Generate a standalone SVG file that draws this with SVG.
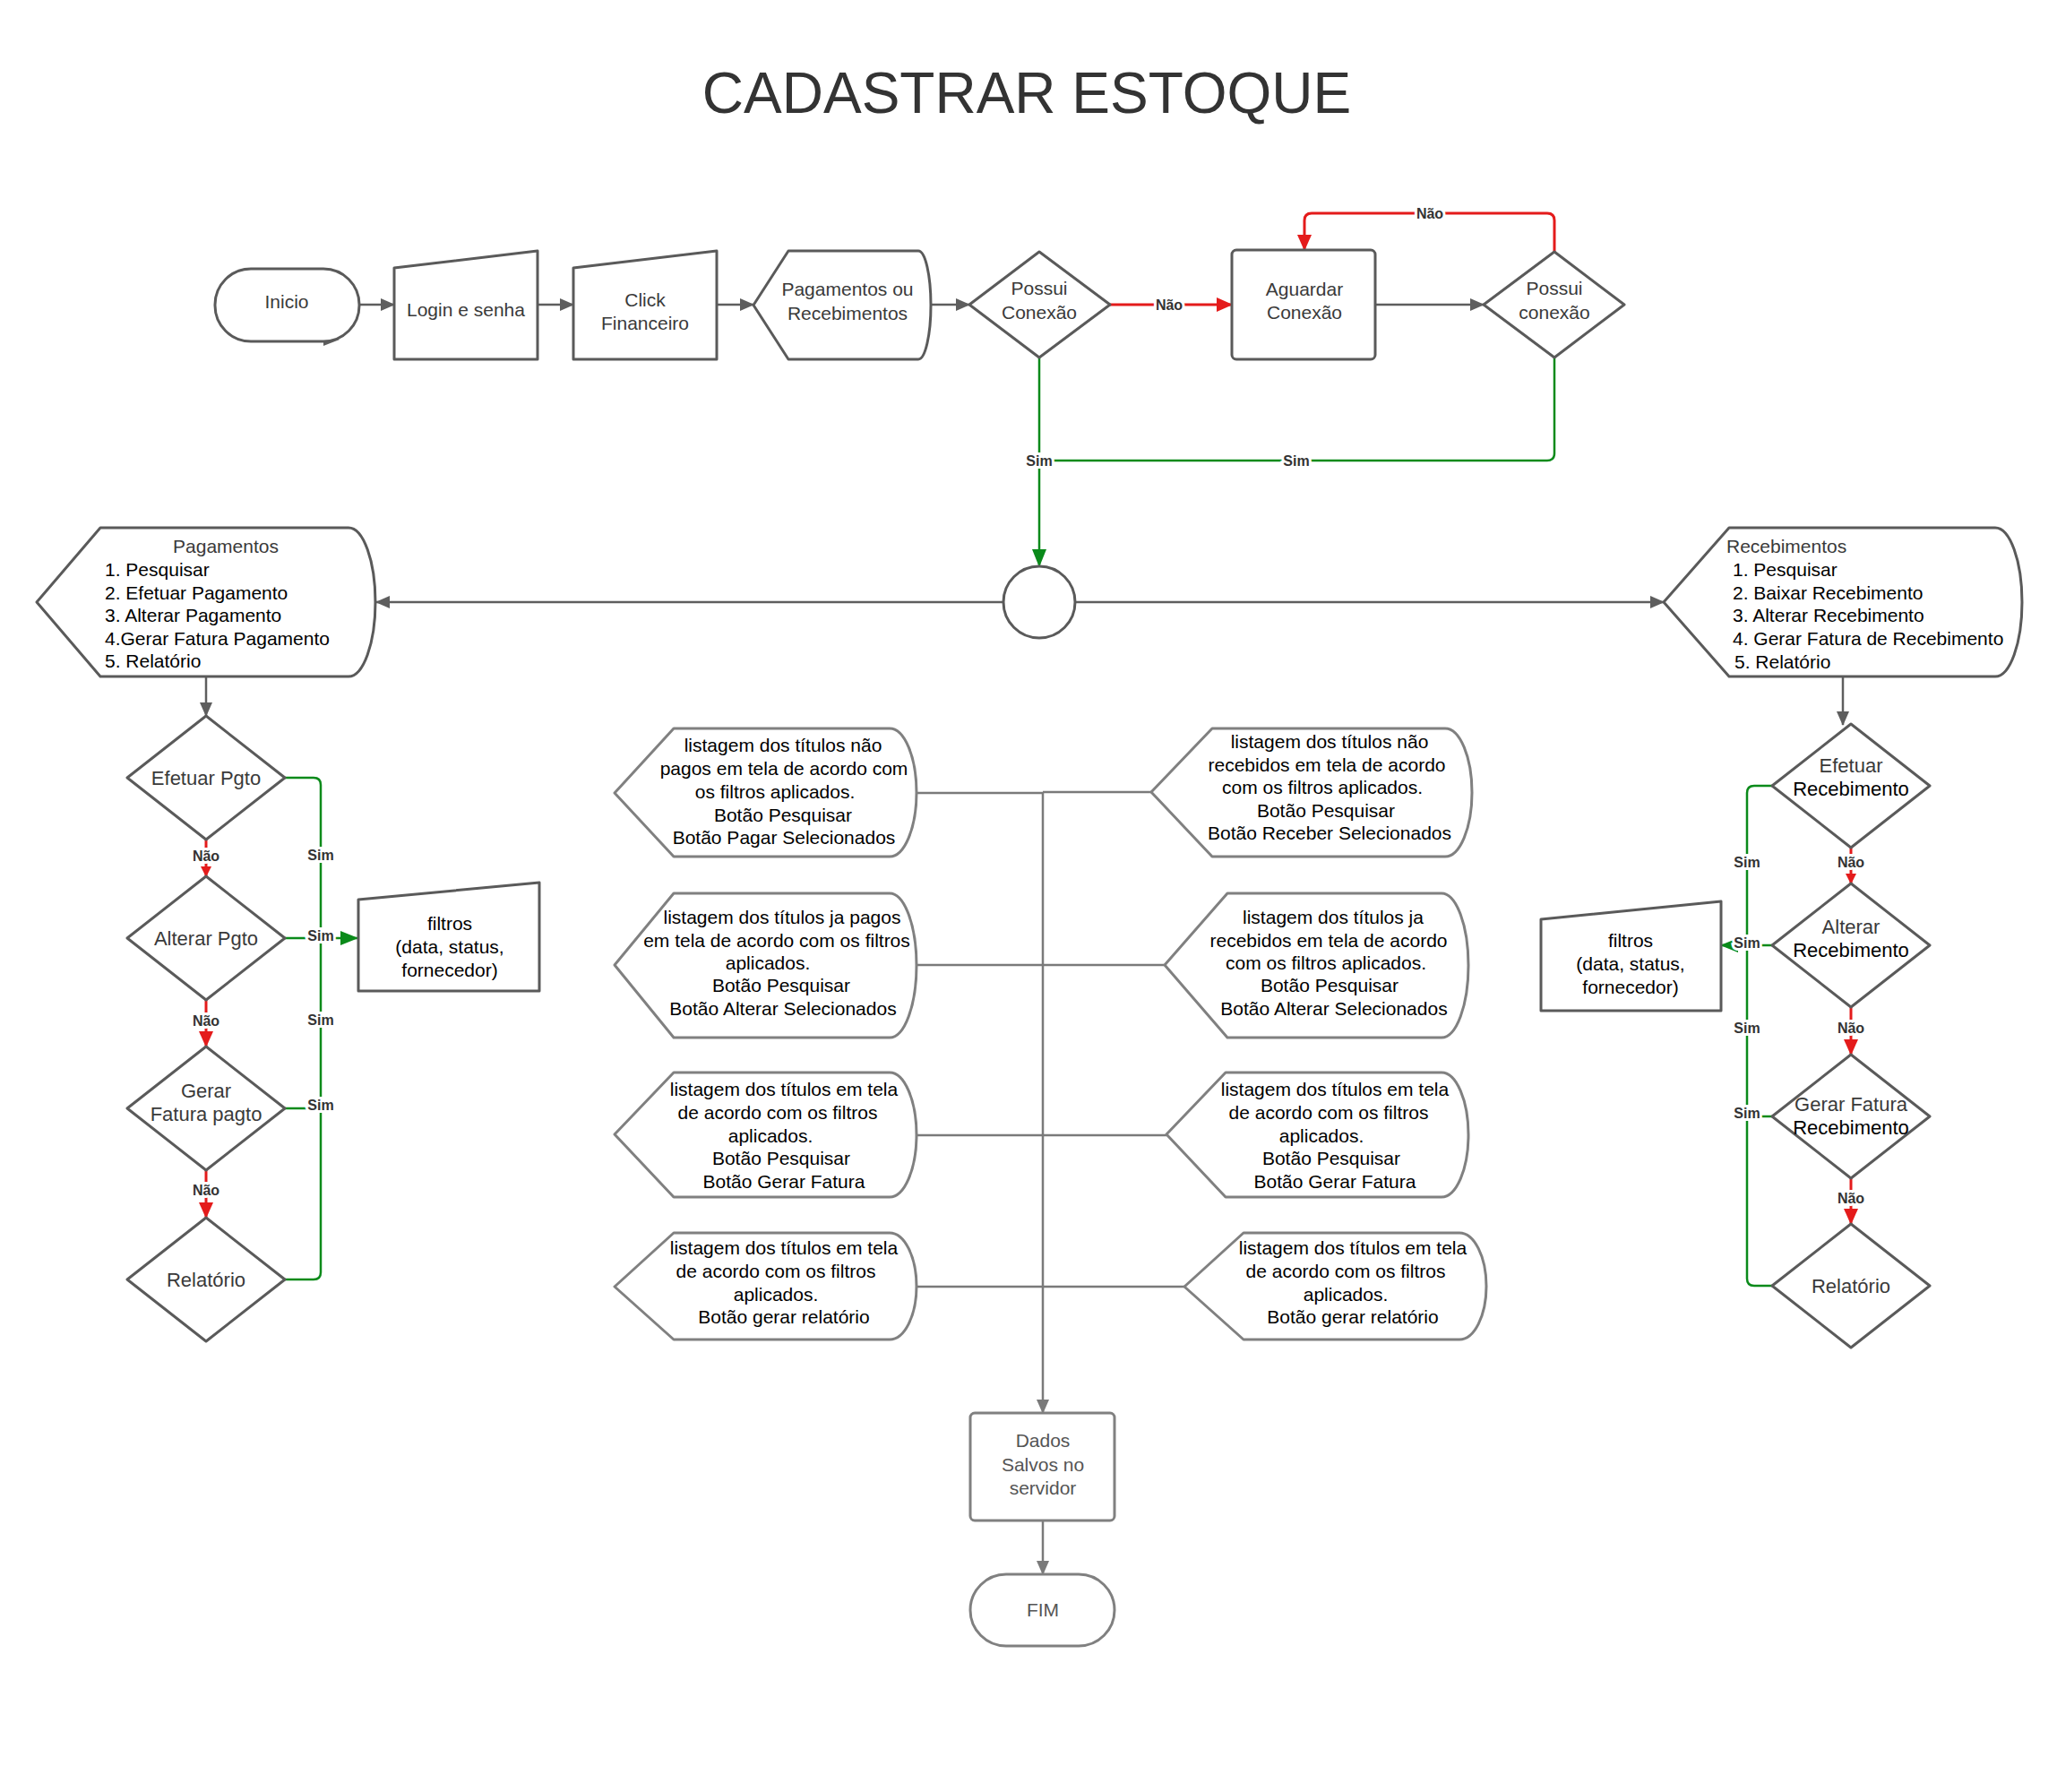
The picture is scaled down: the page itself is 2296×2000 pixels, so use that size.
<svg xmlns="http://www.w3.org/2000/svg" width="2296" height="2000" viewBox="0 0 2296 2000">
<style>
.n{fill:#fff;stroke:#5a5a5a;stroke-width:3;stroke-linejoin:round}
.m{fill:#fff;stroke:#808080;stroke-width:3;stroke-linejoin:round}
.t{font-family:"Liberation Sans",Arial,sans-serif;font-size:21px;fill:#3a3a3a;text-anchor:middle}
.dt{font-family:"Liberation Sans",Arial,sans-serif;font-size:22px;fill:#3a3a3a;text-anchor:middle}
.dtb{font-family:"Liberation Sans",Arial,sans-serif;font-size:22px;fill:#000;text-anchor:middle}
.tb{font-family:"Liberation Sans",Arial,sans-serif;font-size:21px;fill:#000;text-anchor:middle}
.tl{font-family:"Liberation Sans",Arial,sans-serif;font-size:21px;fill:#000;text-anchor:start}
.td{font-family:"Liberation Sans",Arial,sans-serif;font-size:21px;fill:#555;text-anchor:middle}
.g{fill:none;stroke:#5e5e5e;stroke-width:2.5}
.gl{fill:none;stroke:#7a7a7a;stroke-width:2.5}
.gr{fill:none;stroke:#0a8a1a;stroke-width:2.5}
.r{fill:none;stroke:#e41b1b;stroke-width:3}
.lb{font-family:"Liberation Sans",Arial,sans-serif;font-size:16px;font-weight:bold;fill:#333;text-anchor:middle;paint-order:stroke;stroke:#fff;stroke-width:6px}
</style>
<defs>
<marker id="ag" markerUnits="userSpaceOnUse" markerWidth="16" markerHeight="14" refX="15" refY="7" orient="auto"><path d="M0,0 L16,7 L0,14 Z" fill="#5e5e5e"/></marker>
<marker id="al" markerUnits="userSpaceOnUse" markerWidth="16" markerHeight="14" refX="15" refY="7" orient="auto"><path d="M0,0 L16,7 L0,14 Z" fill="#7a7a7a"/></marker>
<marker id="ar" markerUnits="userSpaceOnUse" markerWidth="18" markerHeight="16" refX="17" refY="8" orient="auto"><path d="M0,0 L18,8 L0,16 Z" fill="#e41b1b"/></marker>
<marker id="ars" markerUnits="userSpaceOnUse" markerWidth="12" markerHeight="12" refX="11" refY="6" orient="auto"><path d="M0,0 L12,6 L0,12 Z" fill="#e41b1b"/></marker>
<marker id="agr" markerUnits="userSpaceOnUse" markerWidth="20" markerHeight="16" refX="19" refY="8" orient="auto"><path d="M0,0 L20,8 L0,16 Z" fill="#0a8a1a"/></marker>
</defs>
<rect width="2296" height="2000" fill="#fff"/>
<text x="1146" y="126" style="font-family:'Liberation Sans',Arial,sans-serif;font-size:64px;fill:#333;text-anchor:middle">CADASTRAR ESTOQUE</text>

<g id="connectors">
<path class="g" d="M401,340 H440" marker-end="url(#ag)"/>
<path class="g" d="M600,340 H640" marker-end="url(#ag)"/>
<path class="g" d="M800,340 H841" marker-end="url(#ag)"/>
<path class="g" d="M1039,340 H1082" marker-end="url(#ag)"/>
<path class="r" d="M1239,340 H1375" marker-end="url(#ar)"/>
<path class="g" d="M1535,340 H1656" marker-end="url(#ag)"/>
<path class="r" d="M1735,281 V246 Q1735,238 1727,238 H1464 Q1456,238 1456,246 V279" marker-end="url(#ar)"/>
<path class="gr" d="M1160,399 V632" marker-end="url(#agr)"/>
<path class="gr" d="M1735,399 V506 Q1735,514 1727,514 H1160"/>
<path class="g" d="M1120,672 H420" marker-end="url(#ag)"/>
<path class="g" d="M1200,672 H1857" marker-end="url(#ag)"/>
<path class="g" d="M230,755 V799" marker-end="url(#ag)"/>
<path class="g" d="M2057,755 V809" marker-end="url(#ag)"/>
<polygon points="361,372 379,379 361,386" fill="#5e5e5e"/>

<path class="r" d="M230,937 V978" marker-end="url(#ars)"/>
<path class="r" d="M230,1116 V1168" marker-end="url(#ar)"/>
<path class="r" d="M230,1306 V1359" marker-end="url(#ar)"/>
<path class="gr" d="M318,868 H350 Q358,868 358,876 V1420 Q358,1428 350,1428 H318"/>
<path class="gr" d="M318,1047 H399" marker-end="url(#agr)"/>
<path class="gr" d="M318,1237 H358"/>

<path class="r" d="M2066,946 V986" marker-end="url(#ars)"/>
<path class="r" d="M2066,1124 V1177" marker-end="url(#ar)"/>
<path class="r" d="M2066,1315 V1366" marker-end="url(#ar)"/>
<path class="gr" d="M1978,877 H1958 Q1950,877 1950,885 V1427 Q1950,1435 1958,1435 H1978"/>
<path class="gr" d="M1978,1055 H1921" marker-end="url(#agr)"/>
<path class="gr" d="M1978,1246 H1950"/>

<path class="gl" d="M1023,885 H1164 M1285,884 H1164 M1023,1077 H1164 M1300,1077 H1164 M1023,1267 H1164 M1302,1267 H1164 M1023,1436 H1164 M1322,1436 H1164"/>
<path class="gl" d="M1164,885 V1577" marker-end="url(#al)"/>
<path class="gl" d="M1164,1697 V1757" marker-end="url(#al)"/>

<text class="lb" x="1305" y="346">Não</text>
<text class="lb" x="1596" y="244">Não</text>
<text class="lb" x="1160" y="520">Sim</text>
<text class="lb" x="1447" y="520">Sim</text>
<text class="lb" x="230" y="961">Não</text>
<text class="lb" x="230" y="1145">Não</text>
<text class="lb" x="230" y="1334">Não</text>
<text class="lb" x="358" y="960">Sim</text>
<text class="lb" x="358" y="1050">Sim</text>
<text class="lb" x="358" y="1144">Sim</text>
<text class="lb" x="358" y="1239">Sim</text>
<text class="lb" x="2066" y="968">Não</text>
<text class="lb" x="2066" y="1153">Não</text>
<text class="lb" x="2066" y="1343">Não</text>
<text class="lb" x="1950" y="968">Sim</text>
<text class="lb" x="1950" y="1058">Sim</text>
<text class="lb" x="1950" y="1153">Sim</text>
<text class="lb" x="1950" y="1248">Sim</text>
</g>

<g id="inicio"><rect class="n" x="240" y="300" width="161" height="81" rx="40"/><text class="t" x="320" y="344">Inicio</text></g>
<g id="login"><path class="n" d="M440,299 L600,280 V401 H440 Z"/><text class="t" x="520" y="353">Login e senha</text></g>
<g id="click"><path class="n" d="M640,299 L800,280 V401 H640 Z"/><text class="t" x="720" y="342">Click</text><text class="t" x="720" y="368">Financeiro</text></g>
<g id="pagrec"><path class="n" d="M841,340.5 L880,280 H1025 A14,60.5 0 0 1 1025,401 H880 Z"/><text class="t" x="946" y="330">Pagamentos ou</text><text class="t" x="946" y="357">Recebimentos</text></g>
<g id="possui1"><polygon class="n" points="1082,340 1160,281 1239,340 1160,399"/><text class="t" x="1160" y="329">Possui</text><text class="t" x="1160" y="356">Conexão</text></g>
<g id="aguardar"><rect class="n" x="1375" y="279" width="160" height="122" rx="5"/><text class="t" x="1456" y="330">Aguardar</text><text class="t" x="1456" y="356">Conexão</text></g>
<g id="possui2"><polygon class="n" points="1656,340 1735,281 1813,340 1735,399"/><text class="t" x="1735" y="329">Possui</text><text class="t" x="1735" y="356">conexão</text></g>
<g id="hub"><circle class="n" cx="1160" cy="672" r="40"/></g>

<g id="pagamentos"><path class="n" d="M41,672 L112,589 H389 A30,83 0 0 1 389,755 H112 Z"/>
<text class="t" x="252" y="617">Pagamentos</text>
<text class="tl" x="117" y="643">1. Pesquisar</text>
<text class="tl" x="117" y="669">2. Efetuar Pagamento</text>
<text class="tl" x="117" y="694">3. Alterar Pagamento</text>
<text class="tl" x="117" y="720">4.Gerar Fatura Pagamento</text>
<text class="tl" x="117" y="745">5. Relatório</text></g>
<g id="recebimentos"><path class="n" d="M1857,672 L1930,589 H2227 A30,83 0 0 1 2227,755 H1930 Z"/>
<text class="t" x="1927" y="617" style="text-anchor:start">Recebimentos</text>
<text class="tl" x="1934" y="643">1. Pesquisar</text>
<text class="tl" x="1934" y="669">2. Baixar Recebimento</text>
<text class="tl" x="1934" y="694">3. Alterar Recebimento</text>
<text class="tl" x="1934" y="720">4. Gerar Fatura de Recebimento</text>
<text class="tl" x="1936" y="746">5. Relatório</text></g>

<g id="efetuar-pgto"><polygon class="n" points="142,868 230,799 318,868 230,937"/><text class="dt" x="230" y="876">Efetuar Pgto</text></g>
<g id="alterar-pgto"><polygon class="n" points="142,1047 230,978 318,1047 230,1116"/><text class="dt" x="230" y="1055">Alterar Pgto</text></g>
<g id="gerar-pgto"><polygon class="n" points="142,1237 230,1168 318,1237 230,1306"/><text class="dt" x="230" y="1225">Gerar</text><text class="dt" x="230" y="1251">Fatura pagto</text></g>
<g id="relatorio-pgto"><polygon class="n" points="142,1428 230,1359 318,1428 230,1497"/><text class="dt" x="230" y="1436">Relatório</text></g>
<g id="filtros-pgto"><path class="n" d="M400,1004 L602,985 V1106 H400 Z"/><text class="tb" x="502" y="1038">filtros</text><text class="tb" x="502" y="1064">(data, status,</text><text class="tb" x="502" y="1090">fornecedor)</text></g>

<g id="efetuar-rec"><polygon class="n" points="1978,877 2066,808 2154,877 2066,946"/><text class="dt" x="2066" y="862">Efetuar</text><text class="dtb" x="2066" y="888">Recebimento</text></g>
<g id="alterar-rec"><polygon class="n" points="1978,1055 2066,986 2154,1055 2066,1124"/><text class="dt" x="2066" y="1042">Alterar</text><text class="dtb" x="2066" y="1068">Recebimento</text></g>
<g id="gerar-rec"><polygon class="n" points="1978,1246 2066,1177 2154,1246 2066,1315"/><text class="dt" x="2066" y="1240">Gerar Fatura</text><text class="dtb" x="2066" y="1266">Recebimento</text></g>
<g id="relatorio-rec"><polygon class="n" points="1978,1435 2066,1366 2154,1435 2066,1504"/><text class="dt" x="2066" y="1443">Relatório</text></g>
<g id="filtros-rec"><path class="n" d="M1720,1026 L1921,1006 V1128 H1720 Z"/><text class="tb" x="1820" y="1057">filtros</text><text class="tb" x="1820" y="1083">(data, status,</text><text class="tb" x="1820" y="1109">fornecedor)</text></g>

<g id="lista-pag-1"><path class="m" d="M686,885 L752,813 H993 A30,71.5 0 0 1 993,956 H752 Z"/>
<text class="tb" x="874" y="839">listagem dos títulos não</text>
<text class="tb" x="875" y="865">pagos em tela de acordo com</text>
<text class="tb" x="865" y="891">os filtros aplicados.</text>
<text class="tb" x="874" y="917">Botão Pesquisar</text>
<text class="tb" x="875" y="942">Botão Pagar Selecionados</text></g>
<g id="lista-pag-2"><path class="m" d="M686,1077 L752,997 H993 A30,80.5 0 0 1 993,1158 H752 Z"/>
<text class="tb" x="873" y="1031">listagem dos títulos ja pagos</text>
<text class="tb" x="867" y="1057">em tela de acordo com os filtros</text>
<text class="tb" x="857" y="1082">aplicados.</text>
<text class="tb" x="872" y="1107">Botão Pesquisar</text>
<text class="tb" x="874" y="1133">Botão Alterar Selecionados</text></g>
<g id="lista-pag-3"><path class="m" d="M686,1266 L752,1197 H993 A30,69.5 0 0 1 993,1336 H752 Z"/>
<text class="tb" x="875" y="1223">listagem dos títulos em tela</text>
<text class="tb" x="868" y="1249">de acordo com os filtros</text>
<text class="tb" x="860" y="1275">aplicados.</text>
<text class="tb" x="872" y="1300">Botão Pesquisar</text>
<text class="tb" x="875" y="1326">Botão Gerar Fatura</text></g>
<g id="lista-pag-4"><path class="m" d="M686,1436 L752,1376 H993 A30,59.5 0 0 1 993,1495 H752 Z"/>
<text class="tb" x="875" y="1400">listagem dos títulos em tela</text>
<text class="tb" x="866" y="1426">de acordo com os filtros</text>
<text class="tb" x="866" y="1452">aplicados.</text>
<text class="tb" x="875" y="1477">Botão gerar relatório</text></g>

<g id="lista-rec-1"><path class="m" d="M1285,884 L1353,813 H1613 A30,71.5 0 0 1 1613,956 H1353 Z"/>
<text class="tb" x="1484" y="835">listagem dos títulos não</text>
<text class="tb" x="1481" y="861">recebidos em tela de acordo</text>
<text class="tb" x="1476" y="886">com os filtros aplicados.</text>
<text class="tb" x="1480" y="912">Botão Pesquisar</text>
<text class="tb" x="1484" y="937">Botão Receber Selecionados</text></g>
<g id="lista-rec-2"><path class="m" d="M1300,1077 L1370,997 H1609 A30,80.5 0 0 1 1609,1158 H1370 Z"/>
<text class="tb" x="1488" y="1031">listagem dos títulos ja</text>
<text class="tb" x="1483" y="1057">recebidos em tela de acordo</text>
<text class="tb" x="1480" y="1082">com os filtros aplicados.</text>
<text class="tb" x="1484" y="1107">Botão Pesquisar</text>
<text class="tb" x="1489" y="1133">Botão Alterar Selecionados</text></g>
<g id="lista-rec-3"><path class="m" d="M1302,1266 L1368,1197 H1609 A30,69.5 0 0 1 1609,1336 H1368 Z"/>
<text class="tb" x="1490" y="1223">listagem dos títulos em tela</text>
<text class="tb" x="1483" y="1249">de acordo com os filtros</text>
<text class="tb" x="1475" y="1275">aplicados.</text>
<text class="tb" x="1486" y="1300">Botão Pesquisar</text>
<text class="tb" x="1490" y="1326">Botão Gerar Fatura</text></g>
<g id="lista-rec-4"><path class="m" d="M1322,1436 L1388,1376 H1629 A30,59.5 0 0 1 1629,1495 H1388 Z"/>
<text class="tb" x="1510" y="1400">listagem dos títulos em tela</text>
<text class="tb" x="1502" y="1426">de acordo com os filtros</text>
<text class="tb" x="1502" y="1452">aplicados.</text>
<text class="tb" x="1510" y="1477">Botão gerar relatório</text></g>

<g id="dados"><rect class="m" x="1083" y="1577" width="161" height="120" rx="5"/><text class="td" x="1164" y="1615">Dados</text><text class="td" x="1164" y="1642">Salvos no</text><text class="td" x="1164" y="1668">servidor</text></g>
<g id="fim"><rect class="m" x="1083" y="1757" width="161" height="80" rx="40"/><text class="td" x="1164" y="1804">FIM</text></g>
</svg>
